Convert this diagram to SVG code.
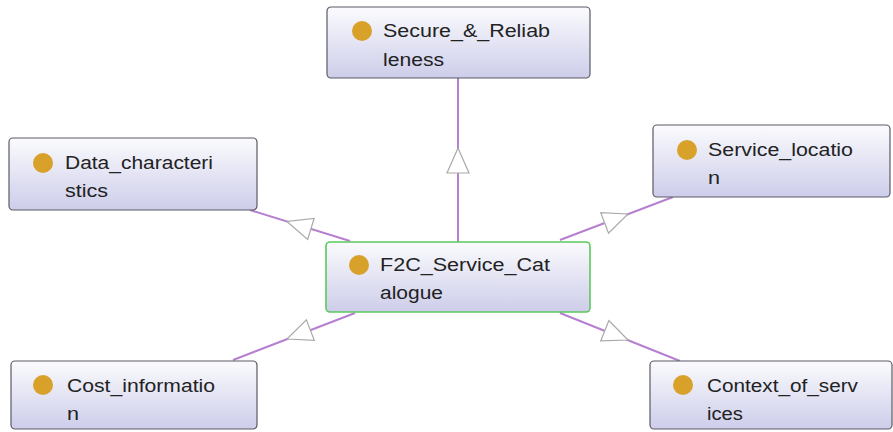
<svg xmlns="http://www.w3.org/2000/svg" width="893" height="432" viewBox="0 0 893 432">
<defs>
<linearGradient id="g" x1="0" y1="0" x2="0" y2="1">
<stop offset="0" stop-color="#fbfbfe"/>
<stop offset="1" stop-color="#cdcdea"/>
</linearGradient>
<polygon id="tri" points="0,0 -25,-11 -25,11"/>
</defs>
<style>
.box{fill:url(#g);stroke:#5a5a66;stroke-width:1.2}
.main{stroke:#5cc85c;stroke-width:1.6}
.dot{fill:#d8a12a}
.t{font-family:"Liberation Sans",Arial,sans-serif;font-size:17.5px;fill:#222}
.edge{stroke:#b67fcf;stroke-width:2;fill:none}
.head{fill:#fff;stroke:#a9a9a9;stroke-width:1.2}
</style>
<rect width="893" height="432" fill="#fff"/>
<g id="connectors">
<line class="edge" x1="458" y1="242" x2="458" y2="78"/>
<line class="edge" x1="350" y1="241" x2="250" y2="210"/>
<line class="edge" x1="560" y1="240" x2="673" y2="197"/>
<line class="edge" x1="355" y1="313" x2="233" y2="360"/>
<line class="edge" x1="560" y1="313" x2="680" y2="361"/>
<use href="#tri" class="head" transform="translate(458,148) rotate(-90)"/>
<use href="#tri" class="head" transform="translate(287,221.5) rotate(197.2)"/>
<use href="#tri" class="head" transform="translate(628,214) rotate(-20.8)"/>
<use href="#tri" class="head" transform="translate(287,339) rotate(158.9)"/>
<use href="#tri" class="head" transform="translate(628,340) rotate(21.8)"/>
</g>
<g id="secure">
<rect class="box" x="327" y="7" width="263" height="71" rx="4"/>
<circle class="dot" cx="362" cy="31" r="10"/>
<text class="t" x="383" y="37" textLength="167" lengthAdjust="spacingAndGlyphs">Secure_&amp;_Reliab</text>
<text class="t" x="383" y="66" textLength="61" lengthAdjust="spacingAndGlyphs">leness</text>
</g>
<g id="data">
<rect class="box" x="9" y="138" width="248" height="72" rx="4"/>
<circle class="dot" cx="43" cy="163" r="10"/>
<text class="t" x="65" y="169" textLength="148" lengthAdjust="spacingAndGlyphs">Data_characteri</text>
<text class="t" x="65" y="197" textLength="43" lengthAdjust="spacingAndGlyphs">stics</text>
</g>
<g id="service">
<rect class="box" x="653" y="125" width="237" height="72" rx="4"/>
<circle class="dot" cx="687" cy="150" r="10"/>
<text class="t" x="708" y="156" textLength="145" lengthAdjust="spacingAndGlyphs">Service_locatio</text>
<text class="t" x="708" y="184" textLength="12" lengthAdjust="spacingAndGlyphs">n</text>
</g>
<g id="f2c">
<rect class="box main" x="326" y="242" width="264" height="70" rx="4"/>
<circle class="dot" cx="359" cy="265" r="10"/>
<text class="t" x="380" y="271" textLength="170" lengthAdjust="spacingAndGlyphs">F2C_Service_Cat</text>
<text class="t" x="380" y="299" textLength="63" lengthAdjust="spacingAndGlyphs">alogue</text>
</g>
<g id="cost">
<rect class="box" x="11" y="361" width="246" height="68" rx="4"/>
<circle class="dot" cx="43" cy="385" r="10"/>
<text class="t" x="67" y="392" textLength="148" lengthAdjust="spacingAndGlyphs">Cost_informatio</text>
<text class="t" x="67" y="420" textLength="12" lengthAdjust="spacingAndGlyphs">n</text>
</g>
<g id="context">
<rect class="box" x="650" y="361" width="242" height="68" rx="4"/>
<circle class="dot" cx="683" cy="385" r="10"/>
<text class="t" x="707" y="392" textLength="151" lengthAdjust="spacingAndGlyphs">Context_of_serv</text>
<text class="t" x="707" y="420" textLength="36" lengthAdjust="spacingAndGlyphs">ices</text>
</g>
</svg>
